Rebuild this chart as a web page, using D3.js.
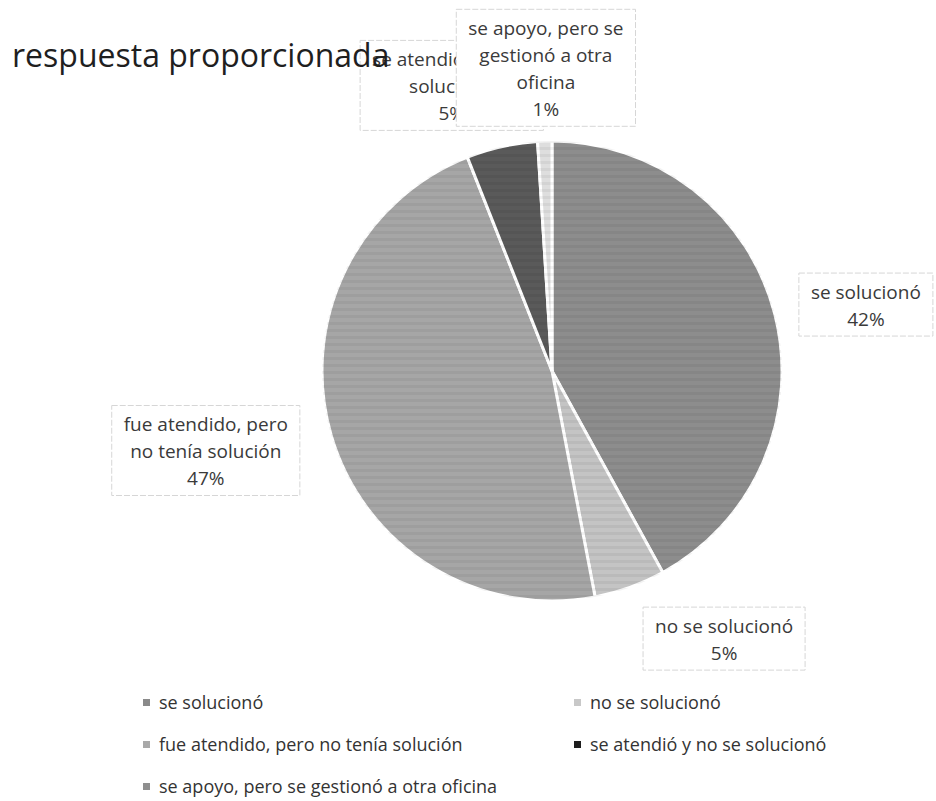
<!DOCTYPE html>
<html>
<head>
<meta charset="utf-8">
<script src="https://cdn.jsdelivr.net/npm/d3@7"></script>
<style>
  body { margin: 0; background: #fff; }
  svg text { font-family: "Open Sans", "DejaVu Sans", sans-serif; }
</style>
</head>
<body>
<div id="chart"></div>
<script>
// values
const categories = [
  "se solucionó",
  "no se solucionó",
  "fue atendido, pero no tenía solución",
  "se atendió y no se solucionó",
  "se apoyo, pero se gestionó a otra oficina"
];
const values = [42, 5, 47, 5, 1];
const labelLines = [
  ["se solucionó"],
  ["no se solucionó"],
  ["fue atendido, pero", "no tenía solución"],
  ["se atendió y no se", "solucionó"],
  ["se apoyo, pero se", "gestionó a otra", "oficina"]
];
const sliceColors = ["#8d8d8d", "#c4c4c4", "#a6a6a6", "#5a5a5a", "#dedede"];
const legendColors = ["#8a8a8a", "#c8c8c8", "#a9a9a9", "#1e1e1e", "#8f8f8f"];

const WIDTH = 936,
  HEIGHT = 801,
  CX = 552,
  CY = 371,
  RADIUS = 230,
  LABEL_RADIUS = RADIUS * 1.4,
  LINE_HEIGHT = 27;

// label nudges away from the plain outer-arc spot (like excel's manual positions)
const labelNudge = [[2, 15], [63, -34], [-37, -9], [-30, 30], [4, 20]];

var svg = d3
  .select("#chart")
  .append("svg")
  .attr("width", WIDTH)
  .attr("height", HEIGHT);

var defs = svg.append("defs");
var stripes = defs
  .append("pattern")
  .attr("id", "scan")
  .attr("patternUnits", "userSpaceOnUse")
  .attr("width", 8)
  .attr("height", 7);
stripes
  .append("rect")
  .attr("y", 0)
  .attr("width", 8)
  .attr("height", 3)
  .attr("fill", "#000")
  .attr("opacity", 0.05);

var pie = d3.pie().sort(null).value(function(d) { return d; });
var arcs = pie(values);
var arc = d3.arc().innerRadius(0).outerRadius(RADIUS);

var pieGroup = svg
  .append("g")
  .attr("transform", "translate(" + CX + "," + CY + ")");

pieGroup
  .selectAll(".slice")
  .data(arcs)
  .enter()
  .append("path")
  .attr("class", "slice")
  .attr("d", arc)
  .attr("fill", function(d, i) { return sliceColors[i]; })
  .attr("stroke", "#fff")
  .attr("stroke-width", 3)
  .attr("stroke-linejoin", "round");

// faint scanner banding over the pie
pieGroup
  .append("circle")
  .attr("r", RADIUS)
  .attr("fill", "url(#scan)")
  .attr("pointer-events", "none");

// data labels
function labelPos(d, i) {
  var mid = (d.startAngle + d.endAngle) / 2;
  return [
    CX + LABEL_RADIUS * Math.sin(mid) + labelNudge[i][0],
    CY - LABEL_RADIUS * Math.cos(mid) + labelNudge[i][1]
  ];
}

var total = d3.sum(values);

var labels = svg
  .selectAll(".label")
  .data(arcs)
  .enter()
  .append("g")
  .attr("class", "label")
  .attr("transform", function(d, i) {
    var p = labelPos(d, i);
    return "translate(" + p[0] + "," + p[1] + ")";
  });

labels.each(function(d, i) {
  var g = d3.select(this);
  var lines = labelLines[i].concat([Math.round((d.value / total) * 100) + "%"]);
  var box = g.append("rect");
  var text = g
    .append("text")
    .attr("text-anchor", "middle")
    .attr("font-size", 19)
    .attr("fill", "#3a3a3a");
  lines.forEach(function(line, k) {
    text
      .append("tspan")
      .attr("x", 0)
      .attr("y", (k - (lines.length - 1) / 2) * LINE_HEIGHT)
      .attr("dy", "0.35em")
      .text(line);
  });
  var bb = text.node().getBBox();
  box
    .attr("x", bb.x - 12)
    .attr("y", bb.y - 6)
    .attr("width", bb.width + 24)
    .attr("height", bb.height + 10)
    .attr("fill", "#fff")
    .attr("stroke", "#d6d6d6")
    .attr("stroke-width", 1)
    .attr("stroke-dasharray", "6,2");
});

// title goes over the cut-off label like in the scan
svg
  .append("text")
  .attr("x", 12)
  .attr("y", 67)
  .attr("font-size", 32)
  .attr("fill", "#1f1f1f")
  .text("respuesta proporcionada");

// the last label box sits on top of everything near the title
labels.filter(function(d, i) { return i === 4; }).raise();

// legend, two columns
var legend = svg
  .append("g")
  .attr("class", "legend")
  .selectAll("g")
  .data(categories)
  .enter()
  .append("g")
  .attr("transform", function(d, i) {
    var col = i % 2,
      row = Math.floor(i / 2);
    return "translate(" + (147 + col * 431) + "," + (703 + row * 42) + ")";
  });

legend
  .append("rect")
  .attr("x", -4)
  .attr("y", -4)
  .attr("width", 7)
  .attr("height", 7)
  .attr("fill", function(d, i) { return legendColors[i]; });

legend
  .append("text")
  .attr("x", 12)
  .attr("dy", "0.35em")
  .attr("font-size", 18)
  .attr("fill", "#333")
  .text(function(d) { return d; });
</script>
</body>
</html>
